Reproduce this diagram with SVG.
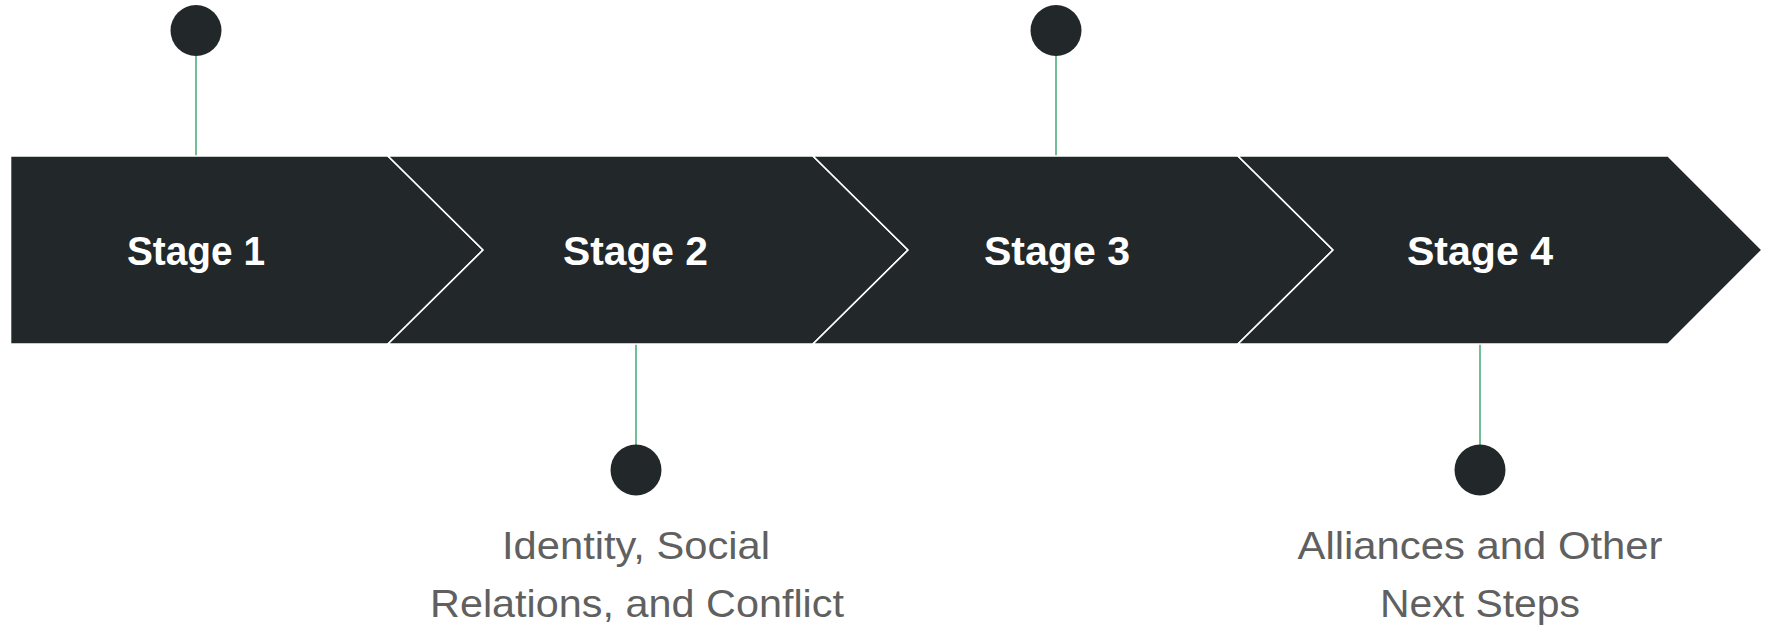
<svg xmlns="http://www.w3.org/2000/svg" width="1768" height="625" viewBox="0 0 1768 625">
  <style>
    .chev { fill: #22282a; stroke: #ffffff; stroke-width: 1.6; stroke-linejoin: miter; }
    .stage { font-family: "Liberation Sans", Arial, sans-serif; font-weight: bold; font-size: 40px; fill: #ffffff; text-anchor: middle; }
    .label { font-family: "Liberation Sans", Arial, sans-serif; font-size: 39px; fill: #606060; text-anchor: middle; }
    .dot { fill: #22282a; }
    .stem { stroke: #4fae7c; stroke-width: 1.6; fill: none; }
  </style>

  <!-- connectors: stems from chevrons to marker dots -->
  <g id="connectors">
    <line class="stem" x1="196" y1="56" x2="196" y2="156"/>
    <line class="stem" x1="636" y1="344" x2="636" y2="445"/>
    <line class="stem" x1="1056" y1="56" x2="1056" y2="156"/>
    <line class="stem" x1="1480" y1="344" x2="1480" y2="445"/>
  </g>

  <g id="stage1">
    <polygon class="chev" points="10.5,156 388,156 483,250 388,344 10.5,344"/>
    <text class="stage" x="196" y="265" textLength="138" lengthAdjust="spacingAndGlyphs">Stage 1</text>
    <circle class="dot" cx="196" cy="30.5" r="25.5"/>
  </g>

  <g id="stage2">
    <polygon class="chev" points="388,156 813,156 908,250 813,344 388,344 483,250"/>
    <text class="stage" x="635.5" y="265" textLength="145" lengthAdjust="spacingAndGlyphs">Stage 2</text>
    <circle class="dot" cx="636" cy="470" r="25.5"/>
    <text class="label" x="636" y="559" textLength="268" lengthAdjust="spacingAndGlyphs">Identity, Social</text>
    <text class="label" x="637" y="617" textLength="414" lengthAdjust="spacingAndGlyphs">Relations, and Conflict</text>
  </g>

  <g id="stage3">
    <polygon class="chev" points="813,156 1238,156 1333,250 1238,344 813,344 908,250"/>
    <text class="stage" x="1057" y="265" textLength="146" lengthAdjust="spacingAndGlyphs">Stage 3</text>
    <circle class="dot" cx="1056" cy="30.5" r="25.5"/>
  </g>

  <g id="stage4">
    <polygon class="chev" points="1238,156 1668,156 1762,250 1668,344 1238,344 1333,250"/>
    <text class="stage" x="1480" y="265" textLength="146" lengthAdjust="spacingAndGlyphs">Stage 4</text>
    <circle class="dot" cx="1480" cy="470" r="25.5"/>
    <text class="label" x="1480" y="559" textLength="365" lengthAdjust="spacingAndGlyphs">Alliances and Other</text>
    <text class="label" x="1480" y="617" textLength="200" lengthAdjust="spacingAndGlyphs">Next Steps</text>
  </g>
</svg>
